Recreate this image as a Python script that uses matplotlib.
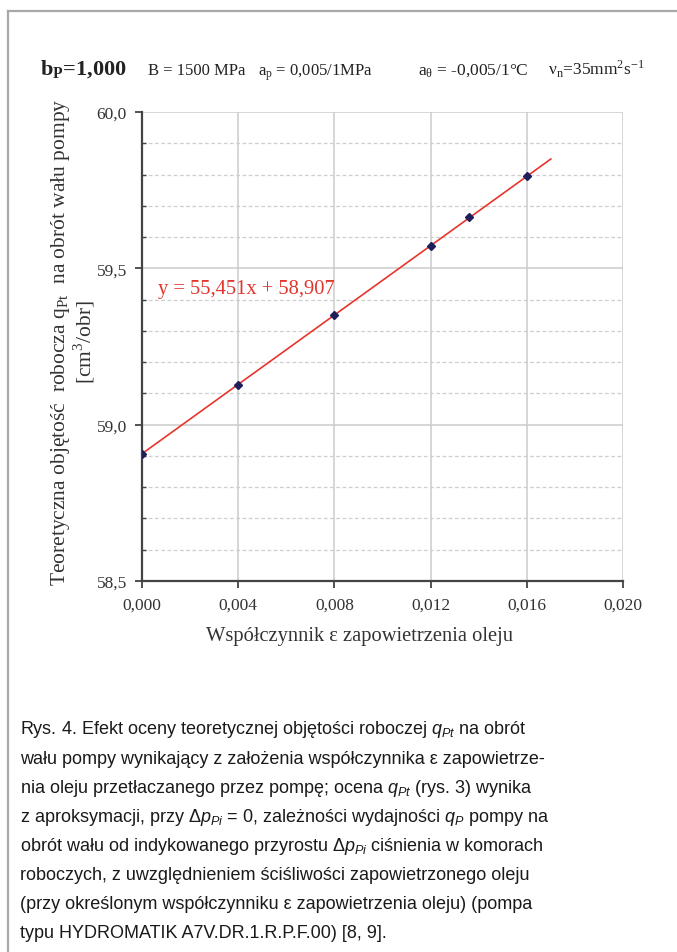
import numpy as np
import matplotlib
matplotlib.use("Agg")
import matplotlib.pyplot as plt
from matplotlib.lines import Line2D
from matplotlib.ticker import MultipleLocator, FuncFormatter

plt.rcParams['font.family'] = ['Liberation Serif', 'DejaVu Serif']
plt.rcParams['mathtext.fontset'] = 'custom'
plt.rcParams['mathtext.rm'] = 'Liberation Sans'
plt.rcParams['mathtext.it'] = 'Liberation Sans:italic'

# measured points: air content vs theoretical displacement
eps = [0.000, 0.004, 0.008, 0.012, 0.0136, 0.016]
q_pt = [58.907, 59.127, 59.350, 59.572, 59.663, 59.796]

# linear trend y = a*x + b
slope = 55.451
intercept = 58.907
trend_x_end = 0.017

x_ticks = [0.000, 0.004, 0.008, 0.012, 0.016, 0.020]
y_min, y_max = 58.5, 60.0

caption = [
    r"Rys. 4. Efekt oceny teoretycznej objętości roboczej $q_{Pt}$ na obrót",
    r"wału pompy wynikający z założenia współczynnika ε zapowietrze-",
    r"nia oleju przetłaczanego przez pompę; ocena $q_{Pt}$ (rys. 3) wynika",
    r"z aproksymacji, przy Δ$p_{Pi}$ = 0, zależności wydajności $q_{P}$ pompy na",
    r"obrót wału od indykowanego przyrostu Δ$p_{Pi}$ ciśnienia w komorach",
    r"roboczych, z uwzględnieniem ściśliwości zapowietrzonego oleju",
    r"(przy określonym współczynniku ε zapowietrzenia oleju) (pompa",
    r"typu HYDROMATIK A7V.DR.1.R.P.F.00) [8, 9].",
]

W, H = 677, 953
fig = plt.figure(figsize=(W / 100, H / 100), dpi=100)

# page frame (left and top edges only)
fig.add_artist(Line2D([8 / W, 8 / W], [0, 1 - 12 / H], color='#a8a8a8', lw=1.6))
fig.add_artist(Line2D([8 / W, 1], [1 - 12 / H, 1 - 12 / H], color='#a8a8a8', lw=1.6))

ax = fig.add_axes([142 / W, 1 - 582 / H, (623 - 142) / W, (582 - 113) / H])

tx = np.array([0.0, trend_x_end])
ax.plot(tx, slope * tx + intercept, color='#e8352c', lw=1.2, zorder=3)
ax.plot(eps, q_pt, ls='none', marker='D', ms=4.5, color='#1c1f5a', zorder=4)

ax.set_xlim(0, 0.020)
ax.set_ylim(y_min, y_max)
ax.set_xticks(x_ticks)
ax.yaxis.set_major_locator(MultipleLocator(0.5))
ax.yaxis.set_minor_locator(MultipleLocator(0.1))
ax.xaxis.set_major_formatter(FuncFormatter(lambda v, p: f"{v:.3f}".replace('.', ',')))
ax.yaxis.set_major_formatter(FuncFormatter(lambda v, p: f"{v:.1f}".replace('.', ',')))

ax.grid(which='major', axis='both', color='#cccccc', lw=1.1, ls='-')
ax.grid(which='minor', axis='y', color='#cfcfcf', lw=0.9, ls=(0, (3, 2)))
ax.set_axisbelow(True)

for s in ['top', 'right']:
    ax.spines[s].set_visible(False)
for s in ['left', 'bottom']:
    ax.spines[s].set_color('#444444')
    ax.spines[s].set_linewidth(1.6)

ax.tick_params(which='major', direction='out', length=5, width=1.3, color='#444444',
               labelsize=12.5, labelcolor='#333333', pad=6)
ax.tick_params(which='minor', axis='y', direction='in', length=3, width=1.0, color='#444444')

ax.set_xlabel("Współczynnik ε zapowietrzenia oleju", fontsize=14.8, color='#333333')
ax.xaxis.set_label_coords((360 - 142) / (623 - 142), -(637 - 582) / (582 - 113))
ax.xaxis.label.set_va('center')

ax.set_ylabel("Teoretyczna objętość  robocza q$_{\\mathregular{Pt}}$  na obrót wału pompy\n"
              "[cm$^{\\mathregular{3}}$/obr]",
              fontsize=15.5, color='#333333', linespacing=0.95)
ax.yaxis.set_label_coords(-(142 - 73) / (623 - 142), (582 - 342) / (582 - 113))
ax.yaxis.label.set_va('center')

ax.text(0.00065, 59.405, "y = 55,451x + 58,907", fontsize=14.8, color='#e0352c',
        ha='left', va='bottom')

# header with pump parameters
hy = 1 - 75 / H
fig.text(40 / W, hy, r"b$_{\mathregular{P}}$=1,000", fontsize=16, fontweight='bold',
         color='#222222', va='baseline')
fig.text(148 / W, hy, "B = 1500 MPa", fontsize=12, color='#222222', va='baseline')
fig.text(258 / W, hy, r"a$_{\mathregular{p}}$ = 0,005/1MPa", fontsize=12, color='#222222', va='baseline')
fig.text(418 / W, hy, r"a$_{\mathregular{θ}}$ = -0,005/1°C", fontsize=12.5, color='#222222', va='baseline')
fig.text(548 / W, hy, r"ν$_{\mathregular{n}}$=35mm$^{\mathregular{2}}$s$^{\mathregular{-1}}$",
         fontsize=12.5, color='#222222', va='baseline')

# caption
for i, line in enumerate(caption):
    fig.text(20 / W, 1 - (730 + i * 29.1) / H, line, family='Liberation Sans',
             fontsize=13, color='#1a1a1a', va='center')

fig.savefig("out.png", dpi=100)
